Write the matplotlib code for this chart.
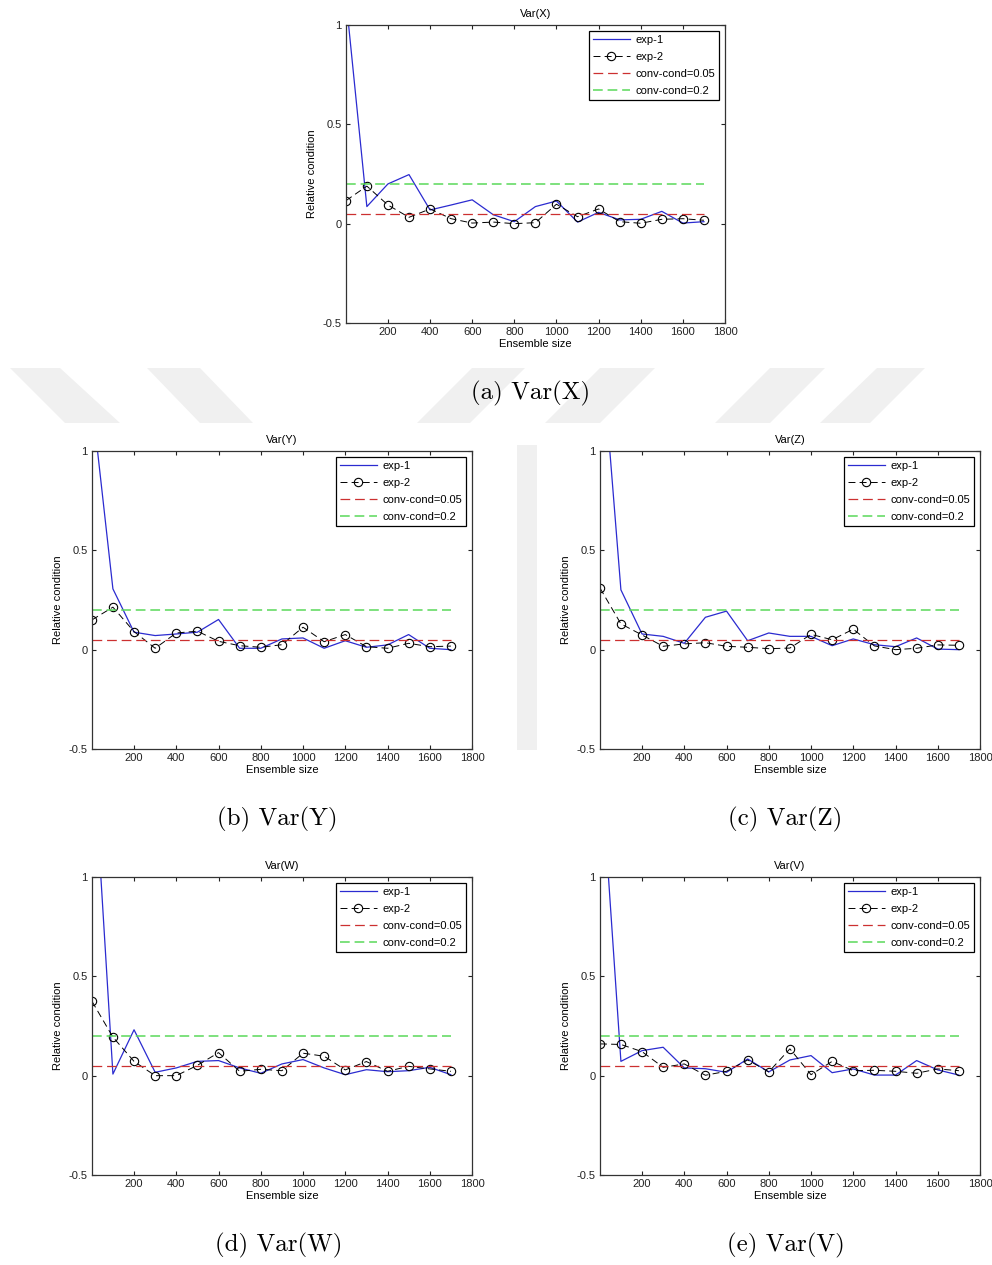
import matplotlib
matplotlib.use("Agg")
import matplotlib.pyplot as plt
from matplotlib.patches import Polygon

# ensemble sizes used in every panel
ensemble = [1, 100, 200, 300, 400, 500, 600, 700, 800, 900,
            1000, 1100, 1200, 1300, 1400, 1500, 1600, 1700]

titles = ["Var(X)", "Var(Y)", "Var(Z)", "Var(W)", "Var(V)"]
captions = ["(a) Var(X)", "(b) Var(Y)", "(c) Var(Z)", "(d) Var(W)", "(e) Var(V)"]

exp1_x = [1.13, 0.086, 0.20, 0.247, 0.069, 0.094, 0.12, 0.045, 0.01, 0.086,
          0.114, 0.008, 0.057, 0.019, 0.022, 0.062, 0.003, 0.01]
exp2_x = [0.116, 0.189, 0.094, 0.032, 0.074, 0.025, 0.003, 0.008, 0.0, 0.005,
          0.098, 0.035, 0.074, 0.01, 0.002, 0.022, 0.025, 0.017]

exp1_y = [1.25, 0.306, 0.088, 0.071, 0.079, 0.088, 0.152, 0.007, 0.007, 0.054,
          0.059, 0.007, 0.045, 0.012, 0.024, 0.076, 0.007, 0.0]
exp2_y = [0.15, 0.214, 0.091, 0.007, 0.084, 0.093, 0.042, 0.02, 0.012, 0.025,
          0.113, 0.04, 0.076, 0.015, 0.007, 0.032, 0.015, 0.018]

exp1_z = [1.62, 0.301, 0.079, 0.067, 0.032, 0.163, 0.194, 0.045, 0.084, 0.067,
          0.067, 0.02, 0.054, 0.025, 0.015, 0.059, 0.003, 0.0]
exp2_z = [0.31, 0.13, 0.074, 0.017, 0.029, 0.035, 0.017, 0.012, 0.005, 0.008,
          0.077, 0.05, 0.103, 0.019, 0.0, 0.007, 0.024, 0.022]

exp1_w = [1.73, 0.008, 0.231, 0.017, 0.039, 0.072, 0.076, 0.039, 0.012, 0.059,
          0.081, 0.039, 0.005, 0.03, 0.02, 0.025, 0.042, 0.005]
exp2_w = [0.374, 0.194, 0.072, 0.0, 0.0, 0.052, 0.116, 0.022, 0.032, 0.025,
          0.113, 0.098, 0.029, 0.071, 0.022, 0.047, 0.034, 0.022]

exp1_v = [1.63, 0.072, 0.126, 0.143, 0.039, 0.035, 0.017, 0.084, 0.019, 0.079,
          0.101, 0.015, 0.034, 0.003, 0.003, 0.076, 0.029, 0.003]
exp2_v = [0.16, 0.157, 0.121, 0.042, 0.059, 0.002, 0.022, 0.079, 0.019, 0.135,
          0.005, 0.072, 0.025, 0.027, 0.022, 0.012, 0.034, 0.025]

conv_tight = 0.05
conv_loose = 0.2

exp1_all = [exp1_x, exp1_y, exp1_z, exp1_w, exp1_v]
exp2_all = [exp2_x, exp2_y, exp2_z, exp2_w, exp2_v]

plt.rcParams["font.family"] = ["Liberation Sans", "DejaVu Sans"]
plt.rcParams["lines.scale_dashes"] = False

W, H = 992, 1265
fig = plt.figure(figsize=(W / 100, H / 100), dpi=100)

# faint watermark stripes behind the plots (pixel coords)
stripes = [
    [(10, 368), (60, 368), (120, 423), (65, 423)],
    [(147, 368), (200, 368), (253, 423), (200, 423)],
    [(472, 368), (525, 368), (470, 423), (417, 423)],
    [(600, 368), (655, 368), (600, 423), (545, 423)],
    [(770, 368), (825, 368), (770, 423), (715, 423)],
    [(877, 368), (925, 368), (870, 423), (820, 423)],
    [(517, 445), (537, 445), (537, 750), (517, 750)],
]
for pts in stripes:
    fig.patches.append(Polygon([(x / W, 1 - y / H) for x, y in pts],
                               closed=True, transform=fig.transFigure,
                               facecolor="#f0f0f0", edgecolor="none", zorder=0))

# axes boxes: left, top, right, bottom in pixels
boxes = [(346, 25, 725, 323), (92, 451, 472, 749), (600, 451, 980, 749),
         (92, 877, 472, 1175), (600, 877, 980, 1175)]
cap_pos = [(531, 393), (277, 819), (785, 819), (279, 1245), (786, 1245)]

for i, (l, t, r, b) in enumerate(boxes):
    ax = fig.add_axes([l / W, 1 - b / H, (r - l) / W, (b - t) / H])
    ax.plot(ensemble, exp1_all[i], color="#2b2bd0", lw=0.9, label="exp-1")
    ax.plot(ensemble, exp2_all[i], color="black", lw=0.7, dashes=(5, 3),
            marker="o", mfc="none", mec="black", ms=6, mew=0.8, label="exp-2")
    ax.plot(ensemble, [conv_tight] * len(ensemble), color="#cc3030", lw=0.9,
            dashes=(7, 3.5), label="conv-cond=0.05")
    ax.plot(ensemble, [conv_loose] * len(ensemble), color="#5ad85a", lw=1.1,
            dashes=(7, 3.5), label="conv-cond=0.2")

    ax.set_xlim(1, 1800)
    ax.set_ylim(-0.5, 1)
    ax.set_xticks(range(200, 1801, 200))
    ax.set_yticks([-0.5, 0, 0.5, 1])
    ax.set_yticklabels(["-0.5", "0", "0.5", "1"])
    ax.tick_params(direction="in", length=3, width=0.8, top=True, right=True,
                   labelsize=8, pad=3, colors="#222222")
    for sp in ax.spines.values():
        sp.set_color("#333333")
        sp.set_linewidth(0.9)

    ax.set_title(titles[i], fontsize=8, pad=6)
    ax.set_xlabel("Ensemble size", fontsize=8, labelpad=1)
    ax.set_ylabel("Relative condition", fontsize=8, labelpad=4)

    leg = ax.legend(loc="upper right", fontsize=8, fancybox=False,
                    edgecolor="black", framealpha=1, handlelength=3.3,
                    handletextpad=0.5, labelspacing=0.62, borderpad=0.4,
                    borderaxespad=0.5)
    leg.get_frame().set_linewidth(0.9)

    cx, cy = cap_pos[i]
    fig.text(cx / W, 1 - cy / H, captions[i], ha="center", va="center",
             fontsize=18, family="cmr10")

fig.savefig("out.png", dpi=100, facecolor="white")
